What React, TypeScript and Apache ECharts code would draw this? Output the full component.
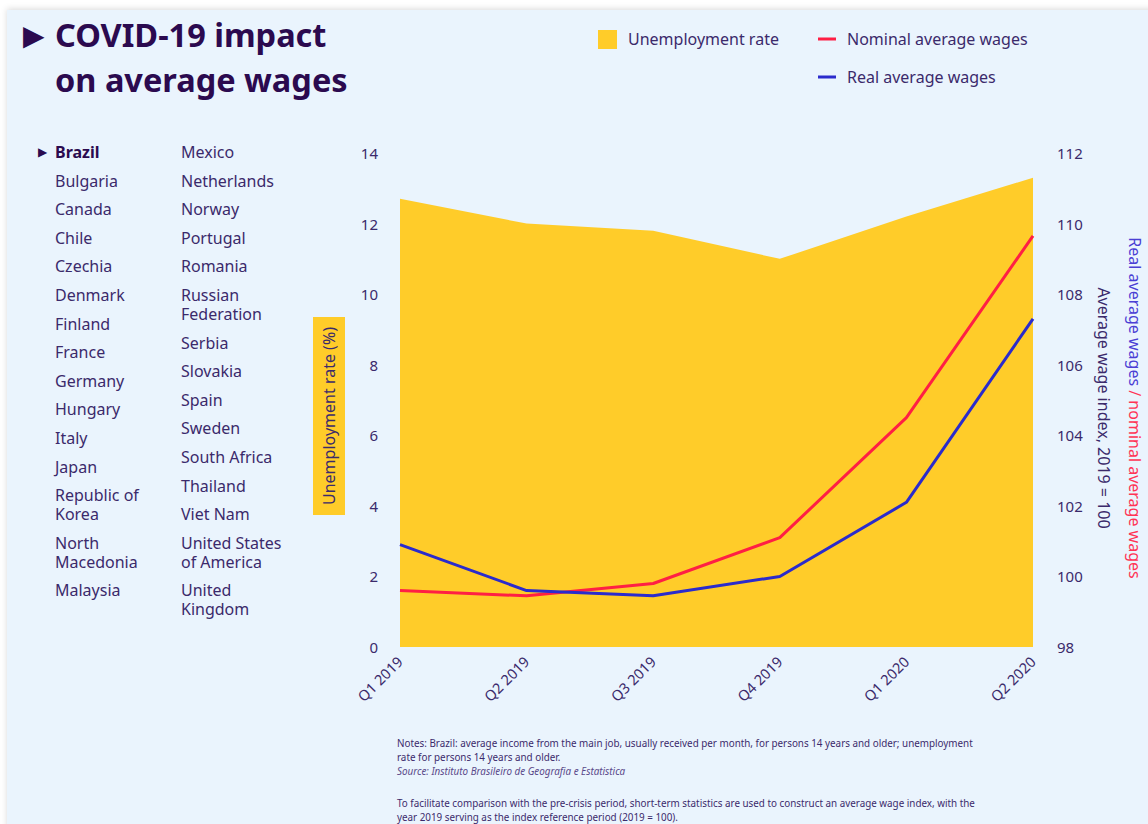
import React, { useEffect, useRef } from "react";
import * as echarts from "echarts";

const quarters = ["Q1 2019", "Q2 2019", "Q3 2019", "Q4 2019", "Q1 2020", "Q2 2020"];
const unemployment = [12.7, 12.0, 11.8, 11.0, 12.2, 13.3];
const nominalWages = [99.6, 99.45, 99.8, 101.1, 104.5, 109.65];
const realWages = [100.9, 99.6, 99.45, 100.0, 102.1, 107.3];

const leftTicks = { min: 0, max: 14, interval: 2 };
const rightTicks = { min: 98, max: 112, interval: 2 };

const countriesCol1 = ["Brazil", "Bulgaria", "Canada", "Chile", "Czechia", "Denmark", "Finland", "France", "Germany", "Hungary", "Italy", "Japan", "Republic of\nKorea", "North\nMacedonia", "Malaysia"];
const countriesCol2 = ["Mexico", "Netherlands", "Norway", "Portugal", "Romania", "Russian\nFederation", "Serbia", "Slovakia", "Spain", "Sweden", "South Africa", "Thailand", "Viet Nam", "United States\nof America", "United\nKingdom"];

const notes = [
  "Notes: Brazil: average income from the main job, usually received per month, for persons 14 years and older; unemployment",
  "rate for persons 14 years and older.",
];
const sourceNote = "Source: Instituto Brasileiro de Geografia e Estatistica";
const notes2 = [
  "To facilitate comparison with the pre-crisis period, short-term statistics are used to construct an average wage index, with the",
  "year 2019 serving as the index reference period (2019 = 100).",
];

const TEXT = "#3b2a6b";
const DARK = "#2b0a4f";
const YELLOW = "#ffcc29";
const RED = "#ff1f44";
const BLUE = "#2b2bcc";
const FONT = "'Noto Sans', sans-serif";

function countryColumn(list: string[], x: number, boldFirst: boolean) {
  const out: any[] = [];
  let y = 152;
  list.forEach((name, i) => {
    const lines = name.split("\n");
    lines.forEach((line, j) => {
      out.push({
        type: "text",
        x,
        y: y + j * 19,
        style: {
          text: line,
          fontFamily: FONT,
          fontSize: 16,
          lineHeight: 18,
          fontWeight: boldFirst && i === 0 ? "bold" : "normal",
          fill: boldFirst && i === 0 ? DARK : TEXT,
          verticalAlign: "middle",
        },
      });
    });
    y += 28.6 + (lines.length - 1) * 19;
  });
  return out;
}

function textLines(lines: string[], x: number, y0: number, lh: number, extra: any) {
  return lines.map((t, i) => ({
    type: "text",
    x,
    y: y0 + i * lh,
    style: { text: t, fontFamily: FONT, fontSize: 9.85, lineHeight: 13, fill: TEXT, verticalAlign: "middle", ...extra },
  }));
}

export default function App() {
  const ref = useRef<HTMLDivElement>(null);
  useEffect(() => {
    document.body.style.margin = "0";
    const chart = echarts.init(ref.current!, undefined, { renderer: "svg" });
    const graphics: any[] = [
      {
        type: "rect",
        shape: { x: 7, y: 10, width: 1200, height: 900 },
        style: { fill: "#eaf4fd", shadowBlur: 6, shadowColor: "rgba(0,0,0,0.15)", shadowOffsetY: -1 },
        z: -10,
      },
      {
        type: "text",
        x: 23,
        y: 35,
        style: { text: "▶", fontFamily: "'DejaVu Sans', sans-serif", fontSize: 28, fill: DARK, verticalAlign: "middle" },
      },
      {
        type: "text",
        x: 55,
        y: 12,
        style: {
          text: "COVID-19 impact\non average wages",
          fontFamily: FONT,
          fontWeight: "bold",
          fontSize: 32.5,
          lineHeight: 45,
          fill: DARK,
          verticalAlign: "top",
        },
      },
      // legend
      { type: "rect", shape: { x: 598, y: 30, width: 19, height: 19 }, style: { fill: YELLOW } },
      { type: "text", x: 628, y: 39, style: { text: "Unemployment rate", fontFamily: FONT, fontSize: 16, fill: TEXT, verticalAlign: "middle" } },
      { type: "line", shape: { x1: 818, y1: 39, x2: 836, y2: 39 }, style: { stroke: RED, lineWidth: 3 } },
      { type: "text", x: 847, y: 39, style: { text: "Nominal average wages", fontFamily: FONT, fontSize: 16, fill: TEXT, verticalAlign: "middle" } },
      { type: "line", shape: { x1: 818, y1: 77, x2: 836, y2: 77 }, style: { stroke: BLUE, lineWidth: 3 } },
      { type: "text", x: 847, y: 77, style: { text: "Real average wages", fontFamily: FONT, fontSize: 16, fill: TEXT, verticalAlign: "middle" } },
      // country list
      { type: "text", x: 38, y: 152, style: { text: "▶", fontFamily: "'DejaVu Sans', sans-serif", fontSize: 12, fill: DARK, verticalAlign: "middle" } },
      ...countryColumn(countriesCol1, 55, true),
      ...countryColumn(countriesCol2, 181, false),
      // axis names
      {
        type: "text",
        x: 329,
        y: 416,
        rotation: Math.PI / 2,
        style: {
          text: "Unemployment rate (%)",
          fontFamily: FONT,
          fontSize: 16,
          fill: TEXT,
          align: "center",
          verticalAlign: "middle",
          backgroundColor: YELLOW,
          padding: [8, 10, 8, 10],
        },
      },
      {
        type: "text",
        x: 1104,
        y: 408,
        rotation: -Math.PI / 2,
        style: {
          text: "Average wage index, 2019 = 100",
          fontFamily: FONT,
          fontSize: 16,
          fill: TEXT,
          align: "center",
          verticalAlign: "middle",
        },
      },
      {
        type: "text",
        x: 1135,
        y: 408,
        rotation: -Math.PI / 2,
        style: {
          text: "{b|Real average wages} {r|/ nominal average wages}",
          fontFamily: FONT,
          fontSize: 16,
          align: "center",
          verticalAlign: "middle",
          rich: {
            b: { fill: "#4a3fd4", fontFamily: FONT, fontSize: 16 },
            r: { fill: "#ff3355", fontFamily: FONT, fontSize: 16 },
          },
        },
      },
      // notes
      ...textLines(notes, 397, 743, 14, {}),
      ...textLines([sourceNote], 397, 771, 14, { fontStyle: "italic", fill: "#5a4a8a" }),
      ...textLines(notes2, 397, 803, 14, {}),
    ];

    chart.setOption({
      animation: false,
      backgroundColor: "#ffffff",
      grid: { left: 400, right: 115, top: 153, bottom: 177, containLabel: false },
      xAxis: {
        type: "category",
        data: quarters,
        boundaryGap: false,
        axisLine: { show: false },
        axisTick: { show: false },
        axisLabel: { rotate: 45, color: TEXT, fontFamily: FONT, fontSize: 14.5, margin: 12 },
      },
      yAxis: [
        {
          type: "value",
          min: leftTicks.min,
          max: leftTicks.max,
          interval: leftTicks.interval,
          position: "left",
          splitLine: { show: false },
          axisLine: { show: false },
          axisTick: { show: false },
          axisLabel: { color: TEXT, fontFamily: FONT, fontSize: 15, margin: 22 },
        },
        {
          type: "value",
          min: rightTicks.min,
          max: rightTicks.max,
          interval: rightTicks.interval,
          position: "right",
          splitLine: { show: false },
          axisLine: { show: false },
          axisTick: { show: false },
          axisLabel: { color: TEXT, fontFamily: FONT, fontSize: 15, margin: 24 },
        },
      ],
      graphic: graphics,
      series: [
        {
          name: "Unemployment rate",
          type: "line",
          yAxisIndex: 0,
          data: unemployment,
          symbol: "none",
          lineStyle: { width: 0 },
          areaStyle: { color: YELLOW, opacity: 1 },
          z: 1,
        },
        {
          name: "Nominal average wages",
          type: "line",
          yAxisIndex: 1,
          data: nominalWages,
          symbol: "none",
          lineStyle: { color: RED, width: 3 },
          z: 3,
        },
        {
          name: "Real average wages",
          type: "line",
          yAxisIndex: 1,
          data: realWages,
          symbol: "none",
          lineStyle: { color: BLUE, width: 3 },
          z: 4,
        },
      ],
    });
    return () => chart.dispose();
  }, []);
  return <div ref={ref} style={{ width: 1148, height: 824 }} />;
}
